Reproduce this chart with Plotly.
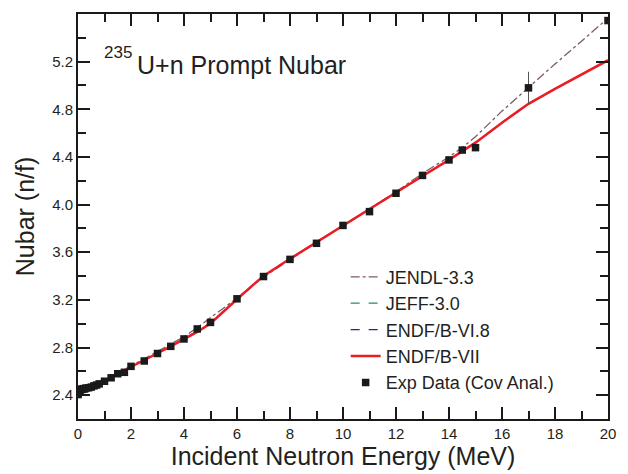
import plotly.graph_objects as go

# ---------------- data ----------------
# ENDF/B-VII evaluation
e_endf7 = [0.0, 0.5, 1.0, 1.5, 2.0, 2.5, 3.0, 3.5, 4.0, 4.5, 5.0, 5.5, 6.0, 6.5, 7.0,
           8.0, 9.0, 10.0, 11.0, 12.0, 13.0, 14.0, 15.0, 16.0, 17.0, 18.0, 19.0, 20.0]
nu_endf7 = [2.415, 2.475, 2.522, 2.578, 2.638, 2.693, 2.752, 2.810, 2.868, 2.932, 3.002,
            3.100, 3.205, 3.305, 3.400, 3.545, 3.685, 3.825, 3.962, 4.100, 4.240, 4.375,
            4.520, 4.688, 4.846, 4.972, 5.095, 5.212]

# ENDF/B-VI.8 evaluation
e_endf68 = [0.0, 1.0, 2.0, 3.0, 4.0, 5.0, 6.0, 7.0, 8.0, 10.0, 12.0, 14.0, 15.0, 16.0,
            17.0, 18.0, 19.0, 20.0]
nu_endf68 = [2.415, 2.522, 2.638, 2.752, 2.870, 3.005, 3.205, 3.400, 3.545, 3.825, 4.100,
             4.375, 4.520, 4.688, 4.846, 4.972, 5.095, 5.212]

# JEFF-3.0 evaluation
e_jeff = [0.0, 1.0, 2.0, 3.0, 4.0, 5.0, 6.0, 7.0, 8.0, 10.0, 12.0, 14.0, 15.0, 16.0,
          17.0, 18.0, 19.0, 20.0]
nu_jeff = [2.415, 2.523, 2.640, 2.755, 2.872, 3.008, 3.207, 3.400, 3.545, 3.826, 4.101,
           4.376, 4.521, 4.688, 4.846, 4.972, 5.095, 5.212]

# JENDL-3.3 evaluation
e_jendl = [0.0, 1.0, 2.0, 3.0, 4.0, 4.5, 5.0, 5.5, 6.0, 7.0, 8.0, 9.0, 10.0, 11.0, 12.0,
           13.0, 14.0, 14.5, 15.0, 16.0, 17.0, 18.0, 19.0, 20.0]
nu_jendl = [2.415, 2.525, 2.645, 2.765, 2.890, 2.968, 3.050, 3.130, 3.215, 3.392, 3.540,
            3.682, 3.822, 3.965, 4.108, 4.262, 4.400, 4.478, 4.570, 4.785, 4.985, 5.180,
            5.372, 5.565]

# Experimental data (covariance analysis)
e_exp = [0.0, 0.0, 0.0, 0.01, 0.03, 0.05, 0.08, 0.1, 0.15, 0.2, 0.25, 0.3, 0.4, 0.5, 0.6,
         0.7, 0.8, 1.0, 1.25, 1.5, 1.75, 2.0, 2.5, 3.0, 3.5, 4.0, 4.5, 5.0, 6.0, 7.0,
         8.0, 9.0, 10.0, 11.0, 12.0, 13.0, 14.0, 14.5, 15.0, 17.0, 20.0]
nu_exp = [2.405, 2.425, 2.445, 2.415, 2.435, 2.44, 2.43, 2.45, 2.448, 2.455, 2.452, 2.46,
          2.462, 2.468, 2.478, 2.485, 2.495, 2.517, 2.546, 2.580, 2.592, 2.642, 2.687,
          2.750, 2.810, 2.872, 2.956, 3.011, 3.209, 3.396, 3.540, 3.675, 3.825, 3.941,
          4.095, 4.245, 4.375, 4.458, 4.478, 4.980, 5.545]
err_exp = [0.0] * 38 + [0.018, 0.135, 0.0]

title_mass = "235"
title_text = "U+n Prompt Nubar"

# ---------------- figure ----------------
FONT = "Liberation Sans, Arial, sans-serif"
TXT = "#231f20"

fig = go.Figure()

fig.add_trace(go.Scatter(x=e_jendl, y=nu_jendl, mode="lines", name="JENDL-3.3",
                         line=dict(color="#7d5a68", width=1.3, dash="dashdot")))
fig.add_trace(go.Scatter(x=e_jeff, y=nu_jeff, mode="lines", name="JEFF-3.0",
                         line=dict(color="#2e8a5a", width=1.3, dash="dash")))
fig.add_trace(go.Scatter(x=e_endf68, y=nu_endf68, mode="lines", name="ENDF/B-VI.8",
                         line=dict(color="#24279a", width=1.3, dash="dash")))
fig.add_trace(go.Scatter(x=e_endf7, y=nu_endf7, mode="lines", name="ENDF/B-VII",
                         line=dict(color="#ec1c24", width=2.5)))
fig.add_trace(go.Scatter(x=e_exp, y=nu_exp, mode="markers", name="Exp Data (Cov Anal.)",
                         marker=dict(symbol="square", size=7.5, color="#1a1a1a"),
                         error_y=dict(type="data", array=err_exp, visible=True,
                                      color="#555555", thickness=1, width=0)))

axis_common = dict(
    showline=True, linecolor="#1a1a1a", linewidth=2, mirror="allticks",
    ticks="inside", ticklen=12, tickwidth=2, tickcolor="#1a1a1a",
    showgrid=False, zeroline=False,
    tickfont=dict(family=FONT, size=15, color=TXT),
)

fig.update_xaxes(
    range=[0, 20], tickvals=[0, 2, 4, 6, 8, 10, 12, 14, 16, 18, 20],
    minor=dict(tickvals=[1, 3, 5, 7, 9, 11, 13, 15, 17, 19], ticklen=8, tickwidth=2,
               tickcolor="#1a1a1a", ticks="inside"),
    title=dict(text="Incident Neutron Energy (MeV)", font=dict(family=FONT, size=25, color=TXT),
               standoff=2),
    **axis_common,
)
fig.update_yaxes(
    range=[2.2, 5.6], tickvals=[2.4, 2.8, 3.2, 3.6, 4.0, 4.4, 4.8, 5.2], tickformat=".1f",
    minor=dict(tickvals=[2.6, 3.0, 3.4, 3.8, 4.2, 4.6, 5.0, 5.4], ticklen=8, tickwidth=2,
               tickcolor="#1a1a1a", ticks="inside"),
    title=dict(text="Nubar (n/f)", font=dict(family=FONT, size=25, color=TXT), standoff=10),
    **axis_common,
)

fig.add_annotation(
    x=0.045, y=0.906, xref="paper", yref="paper", xanchor="left", yanchor="middle",
    text=title_mass, showarrow=False,
    font=dict(family=FONT, size=17, color=TXT),
)
fig.add_annotation(
    x=0.108, y=0.873, xref="paper", yref="paper", xanchor="left", yanchor="middle",
    text=title_text, showarrow=False,
    font=dict(family=FONT, size=25, color=TXT),
)

fig.update_layout(
    width=628, height=474,
    margin=dict(l=78, r=17, t=12, b=47),
    paper_bgcolor="white", plot_bgcolor="white",
    showlegend=True,
    legend=dict(x=0.505, y=0.396, xanchor="left", yanchor="top",
                bgcolor="rgba(0,0,0,0)", borderwidth=0,
                font=dict(family=FONT, size=18, color=TXT),
                tracegroupgap=0, itemwidth=30),
)

fig.write_html("out.html")
